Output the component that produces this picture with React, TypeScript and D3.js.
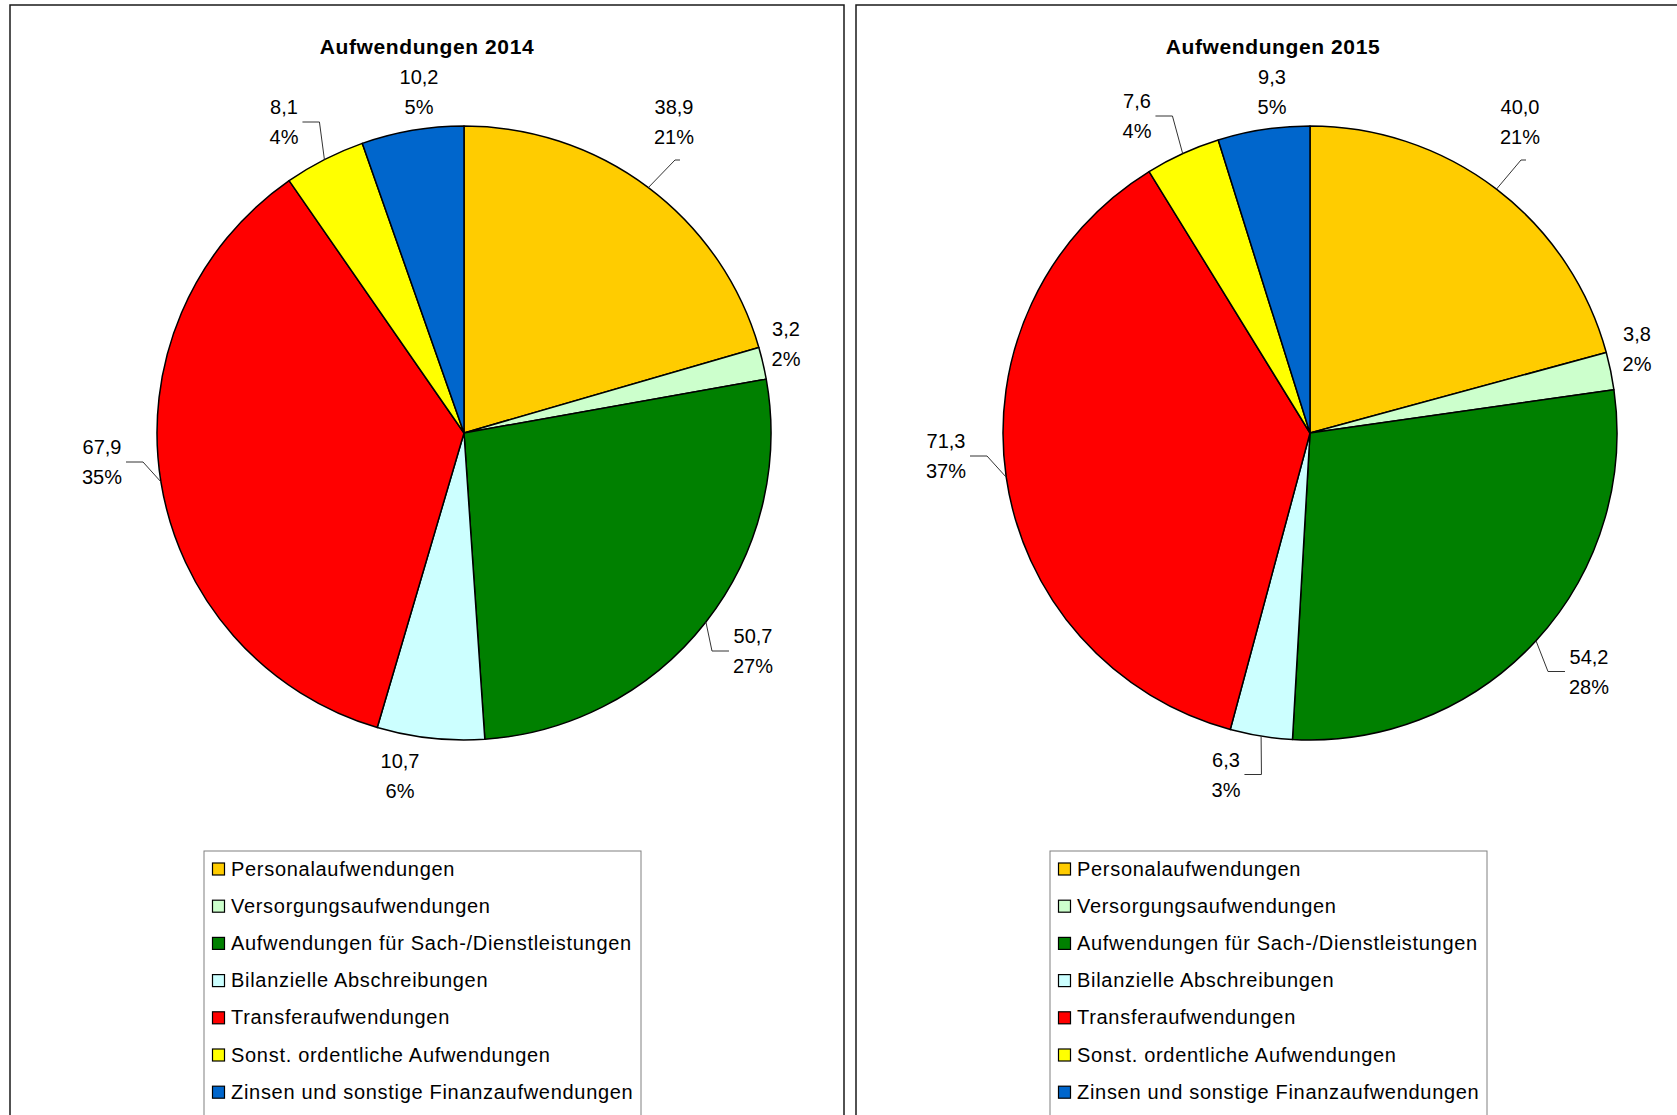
import React from "react";
import * as d3 from "d3";

const categories = [
  "Personalaufwendungen",
  "Versorgungsaufwendungen",
  "Aufwendungen für Sach-/Dienstleistungen",
  "Bilanzielle Abschreibungen",
  "Transferaufwendungen",
  "Sonst. ordentliche Aufwendungen",
  "Zinsen und sonstige Finanzaufwendungen",
];
const colors = ["#FFCC00", "#CCFFCC", "#008000", "#CCFFFF", "#FF0000", "#FFFF00", "#0066CC"];

const values2014 = [38.9, 3.2, 50.7, 10.7, 67.9, 8.1, 10.2];
const percents2014 = [21, 2, 27, 6, 35, 4, 5];
const values2015 = [40.0, 3.8, 54.2, 6.3, 71.3, 7.6, 9.3];
const percents2015 = [21, 2, 28, 3, 37, 4, 5];
const titles = ["Aufwendungen 2014", "Aufwendungen 2015"];

// label layout (offsets from pie centre, leader side)
const layout2014 = [
  { dx: 210, dy: -311, side: "B" },
  { dx: 322, dy: -89, side: "" },
  { dx: 289, dy: 218, side: "L" },
  { dx: -64, dy: 343, side: "" },
  { dx: -362, dy: 29, side: "R" },
  { dx: -180, dy: -311, side: "R" },
  { dx: -45, dy: -341, side: "" },
];
const layout2015 = [
  { dx: 210, dy: -311, side: "B" },
  { dx: 327, dy: -84, side: "" },
  { dx: 279, dy: 238.5, side: "L" },
  { dx: -84, dy: 341.5, side: "R" },
  { dx: -364, dy: 23, side: "R" },
  { dx: -173, dy: -317, side: "R" },
  { dx: -38, dy: -341, side: "" },
];

const FONT = "'Liberation Sans', Arial, sans-serif";
const LABEL_SIZE = 20;

function textWidth(s: string, size: number) {
  let w = 0;
  for (const ch of s) {
    if (ch === "," || ch === ".") w += 0.278;
    else if (ch === "%") w += 0.889;
    else w += 0.556;
  }
  return w * size;
}

const fmt = (v: number) => v.toFixed(1).replace(".", ",");

function Panel({ x0, title, values, percents, layout, width }: any) {
  const cx = x0 + 454;
  const cy = 433;
  const r = 307;
  const pie = d3.pie<number>().sort(null).startAngle(0).endAngle(2 * Math.PI);
  const arcs = pie(values);
  const arcGen = d3.arc<d3.PieArcDatum<number>>().innerRadius(0).outerRadius(r);

  return (
    <g>
      <path
        d={`M${x0},1200 L${x0},5 L${x0 + width},5 L${x0 + width},1200`}
        fill="#fff"
        stroke="#1a1a1a"
        strokeWidth={1.5}
      />
      <text
        x={x0 + 417}
        y={46}
        textAnchor="middle"
        dominantBaseline="central"
        fontFamily={FONT}
        fontWeight="bold"
        fontSize={21}
        letterSpacing={0.6}
      >
        {title}
      </text>
      <g transform={`translate(${cx},${cy})`}>
        {arcs.map((a, i) => (
          <path key={i} d={arcGen(a) || ""} fill={colors[i]} stroke="#000" strokeWidth={1.5} strokeLinejoin="round" />
        ))}
      </g>
      {arcs.map((a, i) => {
        const L = layout[i];
        const lx = cx + L.dx;
        const ly = cy + L.dy;
        const l1 = fmt(values[i]);
        const l2 = percents[i] + "%";
        const hw = Math.max(textWidth(l1, LABEL_SIZE), textWidth(l2, LABEL_SIZE)) / 2;
        const mid = (a.startAngle + a.endAngle) / 2;
        const px = cx + r * Math.sin(mid);
        const py = cy - r * Math.cos(mid);
        let leader = null;
        if (L.side === "R") {
          const sx = lx + hw + 4;
          leader = `M${sx},${ly} L${sx + 17},${ly} L${px},${py}`;
        } else if (L.side === "L") {
          const sx = lx - hw - 4;
          leader = `M${sx},${ly} L${sx - 17},${ly} L${px},${py}`;
        } else if (L.side === "B") {
          const sy = ly + 38;
          leader = `M${lx + 6},${sy} L${lx + 1},${sy} L${px},${py}`;
        }
        return (
          <g key={"l" + i}>
            {leader && <path d={leader} fill="none" stroke="#333" strokeWidth={1} />}
            <text
              x={lx}
              textAnchor="middle"
              fontFamily={FONT}
              fontSize={LABEL_SIZE}
              fill="#000"
            >
              <tspan x={lx} y={ly - 15} dominantBaseline="central">{l1}</tspan>
              <tspan x={lx} y={ly + 15} dominantBaseline="central">{l2}</tspan>
            </text>
          </g>
        );
      })}
      <rect x={x0 + 194} y={851} width={437} height={400} fill="#fff" stroke="#808080" strokeWidth={1} />
      {categories.map((c, i) => {
        const yy = 868.5 + i * 37.2;
        return (
          <g key={"lg" + i}>
            <rect x={x0 + 202.5} y={yy - 5.5} width={12} height={12} fill={colors[i]} stroke="#000" strokeWidth={1.2} />
            <text x={x0 + 221} y={yy} dominantBaseline="central" fontFamily={FONT} fontSize={20} letterSpacing={0.7} fill="#000">
              {c}
            </text>
          </g>
        );
      })}
    </g>
  );
}

export default function App() {
  return (
    <svg
      width={1677}
      height={1115}
      style={{ position: "absolute", left: 0, top: 0, display: "block", background: "#fff" }}
    >
      <rect x={0} y={0} width={1677} height={1115} fill="#fff" />
      <Panel x0={10} width={834} title={titles[0]} values={values2014} percents={percents2014} layout={layout2014} />
      <Panel x0={856} width={834} title={titles[1]} values={values2015} percents={percents2015} layout={layout2015} />
    </svg>
  );
}
